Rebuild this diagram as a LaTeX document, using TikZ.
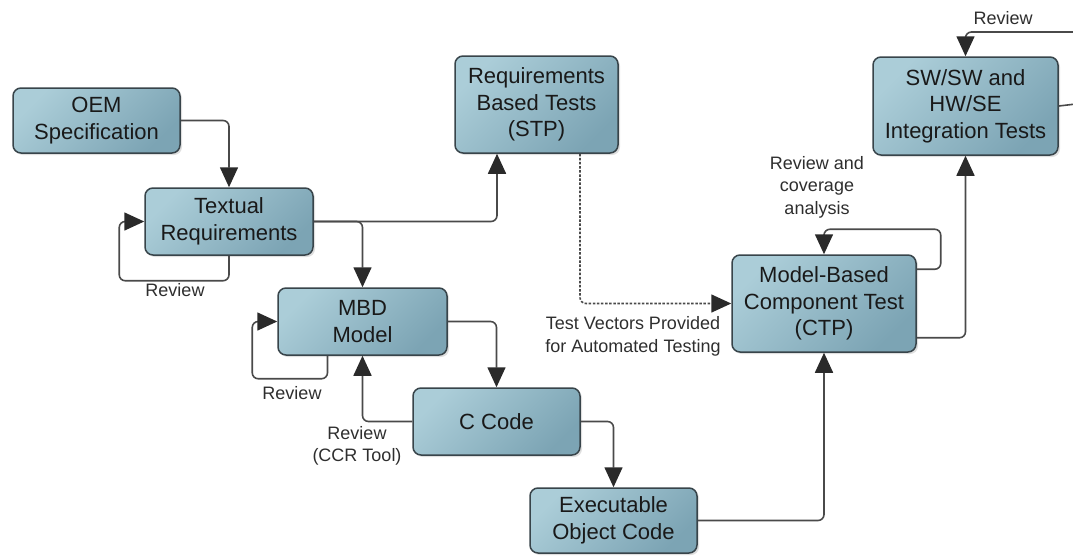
\documentclass[tikz,border=0pt]{standalone}
\usepackage{fontspec}
\setmainfont{Liberation Sans}
\usetikzlibrary{arrows.meta,shadows,calc}
\definecolor{boxlight}{HTML}{ABCDD8}
\definecolor{boxdark}{HTML}{7CA4B4}
\definecolor{boxline}{HTML}{38444A}
\definecolor{connline}{HTML}{4A4A4A}
\definecolor{tipcol}{HTML}{2A2A2A}
\definecolor{labeltext}{HTML}{2E2E2E}
\tikzset{
  procbox/.style={draw=boxline, line width=1.5pt, rounded corners=8pt,
    top color=boxlight, bottom color=boxdark, shading angle=45,
    drop shadow={shadow xshift=2pt, shadow yshift=-2pt, opacity=0.25},
    align=center, text=black!90, inner sep=0pt,
    font=\fontsize{22}{26.5}\selectfont},
  conn/.style={draw=connline, line width=1.6pt, rounded corners=6pt,
    -{Triangle[length=20pt,width=18pt,color=tipcol]}},
  dotconn/.style={conn, dash pattern=on 2.5pt off 1.6pt},
  plainconn/.style={draw=connline, line width=1.6pt, rounded corners=6pt},
  lbl/.style={align=center, text=labeltext, inner sep=0pt,
    font=\fontsize{18}{22.5}\selectfont}
}
\begin{document}
\begin{tikzpicture}[x=1pt,y=-1pt]
\useasboundingbox (0,0) rectangle (1073,557);
% boxes
\node[procbox, minimum width=167pt, minimum height=65pt] (oem) at (96.5,120.5) {OEM\\Specification};
\node[procbox, minimum width=168pt, minimum height=67pt] (txt) at (229,221.5) {Textual\\Requirements};
\node[procbox, minimum width=163pt, minimum height=97pt] (stp) at (536.5,104.5) {Requirements\\Based Tests\\(STP)};
\node[procbox, minimum width=169pt, minimum height=67pt] (mbd) at (362.5,321.5) {MBD\\Model};
\node[procbox, minimum width=167pt, minimum height=67pt] (cc) at (496.5,421.5) {C Code};
\node[procbox, minimum width=167pt, minimum height=65pt] (exe) at (613.5,520.5) {Executable\\Object Code};
\node[procbox, minimum width=184pt, minimum height=97pt] (ctp) at (824,303.5) {Model-Based\\Component Test\\(CTP)};
\node[procbox, minimum width=185pt, minimum height=98pt] (sw) at (965.5,106) {SW/SW and\\HW/SE\\Integration Tests};
% free ends at the right border
\coordinate (swrev) at (1076,32);
\coordinate (swout) at (1076,104);
% connectors
\draw[conn] (oem.east) -| (txt.north);
\draw[conn] (txt.south) -- ++(0,25) -| ([xshift=-25pt]txt.west) -- (txt.west);
\draw[conn] (txt.east) -| ([xshift=-39.5pt]stp.south);
\draw[conn] (txt.east) -| (mbd.north);
\draw[conn] ([xshift=-35pt]mbd.south) -- ++(0,23) -| ([xshift=-25pt]mbd.west) -- (mbd.west);
\draw[conn] (mbd.east) -| (cc.north);
\draw[conn] (cc.west) -| (mbd.south);
\draw[conn] (cc.east) -| (exe.north);
\draw[conn] (exe.east) -| (ctp.south);
\draw[dotconn] ([xshift=43.5pt]stp.south) |- (ctp.west);
\draw[conn] ([yshift=-15pt]ctp.north east) -- ++(24,0) |- ([yshift=25pt]ctp.north) -- (ctp.north);
\draw[conn] ([yshift=15pt]ctp.south east) -| (sw.south);
\draw[conn] (swrev) -| (sw.north);
\draw[plainconn] (sw.east) -- (swout);
% labels
\node[lbl] (l1) at (175,290) {Review};
\node[lbl] (l2) at (292,393) {Review};
\node[lbl] (l3) at (357,446) {Review\\(CCR Tool)};
\node[lbl] (l4) at (817,187) {Review and\\coverage\\analysis};
\node[lbl] (l5) at (633,336.5) {Test Vectors Provided\\for Automated Testing};
\node[lbl] (l6) at (1003,18) {Review};
\end{tikzpicture}
\end{document}
